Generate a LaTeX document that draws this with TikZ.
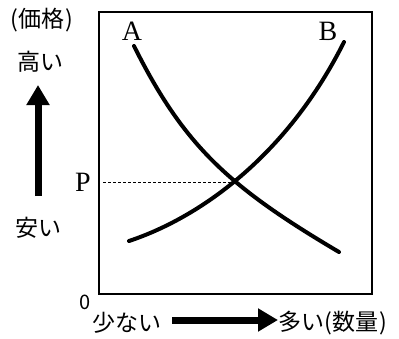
\documentclass[tikz,border=0pt]{standalone}
\usepackage{fontspec}
\setmainfont{Liberation Serif}
\newfontfamily\jpfont{Noto Sans CJK JP}
\usetikzlibrary{arrows.meta}
\begin{document}
\begin{tikzpicture}[x=1pt,y=-1pt,
    jplabel/.style={font=\jpfont\fontsize{23}{23}\selectfont, inner sep=0pt},
    curvelabel/.style={font=\fontsize{28}{28}\selectfont, inner sep=0pt},
    curveline/.style={line width=4pt, line cap=round},
    bigarrow/.style={line width=7pt, -{Triangle[length=20pt,width=22pt]}}]
  \useasboundingbox (0,0) rectangle (399,338);

  % Define node positions
  \coordinate (O) at (99,294);
  \coordinate (T) at (372,12);
  \coordinate (E) at (233,182);
  \coordinate (Pstart) at (103,182);
  \coordinate (A0) at (134,46);
  \coordinate (A1) at (339,252);
  \coordinate (B0) at (129,241);
  \coordinate (B1) at (344,42);
  \coordinate (Lo) at (38,196);
  \coordinate (Hi) at (38,85);
  \coordinate (Few) at (172,320);
  \coordinate (Many) at (278,320);

  \node[curvelabel] (A) at (132,31) {A};
  \node[curvelabel] (B) at (328,31) {B};
  \node[curvelabel] (P) at (83,182) {P};
  \node[jplabel] (price) at (42,20) {(\hspace{1pt}価格\hspace{1pt})};
  \node[jplabel] (high) at (40,62) {高い};
  \node[jplabel] (low) at (38,228) {安い};
  \node[jplabel, font=\jpfont\fontsize{20}{20}\selectfont] (zero) at (85,302) {0};
  \node[jplabel, anchor=east] (few) at (162,323) {少ない};
  \node[jplabel, anchor=west] (many) at (278,323) {多い(\hspace{1pt}数量\hspace{1pt})};

  % Draw frame
  \draw[line width=1.5pt] (O) rectangle (T);

  % Draw curves
  \draw[curveline] (A0) .. controls (184,146) and (229,187) .. (A1);
  \draw[curveline] (B0) .. controls (204,216) and (289,152) .. (B1);

  % Price level
  \draw[dashed, dash pattern=on 3pt off 2pt, line width=0.8pt] (Pstart) -- (E);

  % Draw arrows
  \draw[bigarrow] (Lo) -- (Hi);
  \draw[bigarrow] (Few) -- (Many);
\end{tikzpicture}
\end{document}
